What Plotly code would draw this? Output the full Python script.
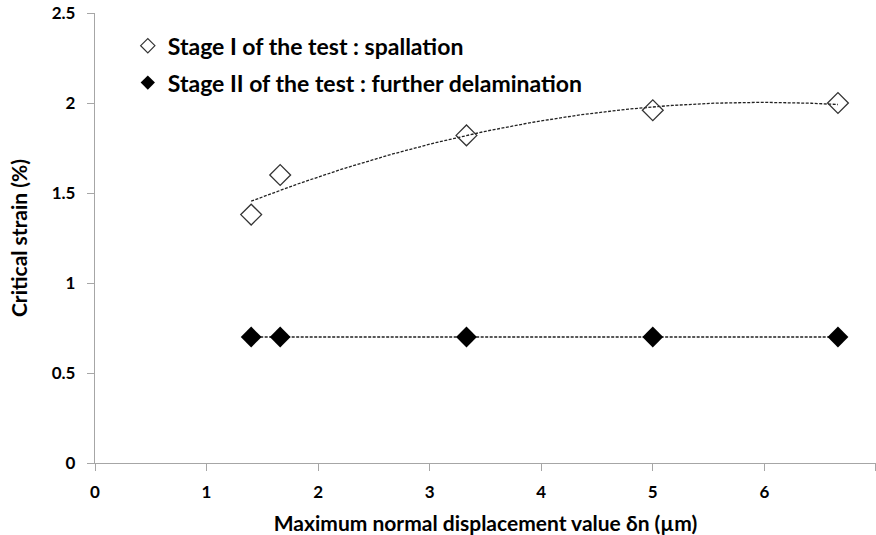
import numpy as np
import plotly.graph_objects as go

# Maximum normal displacement (µm)
displacement = [1.4, 1.66, 3.33, 5.0, 6.66]
# Critical strain (%) for each stage
stage1_strain = [1.38, 1.60, 1.82, 1.96, 2.00]
stage2_strain = [0.70, 0.70, 0.70, 0.70, 0.70]

stage1_name = "Stage I of the test : spallation"
stage2_name = "Stage II of the test : further delamination"

FONT = "Lato"
DASH = "3px,1.5px"

# Second-order polynomial trend for stage I, linear trend for stage II
x_fit = np.linspace(min(displacement), max(displacement), 200)
p1 = np.polyfit(displacement, stage1_strain, 2)
p2 = np.polyfit(displacement, stage2_strain, 1)

fig = go.Figure()
fig.add_trace(go.Scatter(
    x=x_fit, y=np.polyval(p1, x_fit), mode="lines",
    line=dict(color="#222", width=1.3, dash=DASH),
    showlegend=False, hoverinfo="skip"))
fig.add_trace(go.Scatter(
    x=x_fit, y=np.polyval(p2, x_fit), mode="lines",
    line=dict(color="#222", width=1.3, dash=DASH),
    showlegend=False, hoverinfo="skip"))
fig.add_trace(go.Scatter(
    x=displacement, y=stage1_strain, mode="markers", name=stage1_name,
    legendgroup="s1", showlegend=False,
    marker=dict(symbol="diamond-open", size=16, color="#333",
                line=dict(width=1.3, color="#333"))))
fig.add_trace(go.Scatter(
    x=displacement, y=stage2_strain, mode="markers", name=stage2_name,
    legendgroup="s2", showlegend=False,
    marker=dict(symbol="diamond", size=16, color="black")))

# Legend entries use smaller symbols than the plotted points
fig.add_trace(go.Scatter(
    x=[None], y=[None], mode="markers", name=stage1_name, legendgroup="s1",
    marker=dict(symbol="diamond-open", size=11, color="#333",
                line=dict(width=1.2, color="#333"))))
fig.add_trace(go.Scatter(
    x=[None], y=[None], mode="markers", name=stage2_name, legendgroup="s2",
    marker=dict(symbol="diamond", size=11, color="black")))

axis_common = dict(
    showgrid=False, zeroline=False, showline=True, linecolor="#a6a6a6",
    linewidth=1.3, ticks="outside", tickcolor="#a6a6a6", ticklen=7,
    tickfont=dict(family=FONT, size=17, color="black", weight="bold"),
    automargin=False,
)

fig.update_layout(
    width=876, height=535,
    margin=dict(l=95, r=0, t=13, b=72),
    paper_bgcolor="white", plot_bgcolor="white",
    font=dict(family=FONT, color="black"),
    xaxis=dict(range=[0, 7.001], tickvals=[0, 1, 2, 3, 4, 5, 6, 7],
               ticklabelstandoff=6, **axis_common,
               title=dict(text="Maximum normal displacement value δn (µm)",
                          font=dict(family=FONT, size=21, weight="bold"),
                          standoff=18)),
    yaxis=dict(range=[0, 2.5], dtick=0.5, ticklabelstandoff=8, **axis_common,
               title=dict(text="Critical strain (%)",
                          font=dict(family=FONT, size=21, weight="bold"),
                          standoff=18)),
    legend=dict(x=0.042, y=0.975, xanchor="left", yanchor="top",
                bgcolor="rgba(0,0,0,0)",
                font=dict(family=FONT, size=23, color="black", weight="bold"),
                tracegroupgap=4, itemwidth=30),
    showlegend=True,
)

fig.write_html("out.html")
